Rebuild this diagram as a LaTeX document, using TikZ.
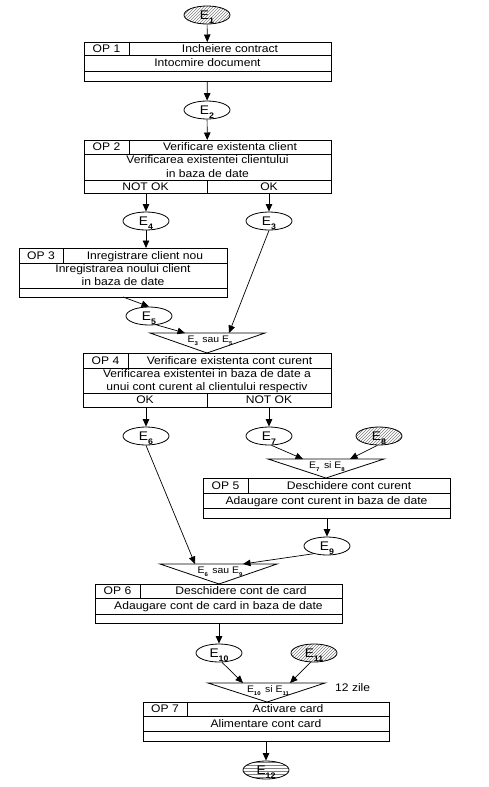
\documentclass[tikz,border=0pt]{standalone}
\usepackage{fontspec}
\setmainfont[FakeStretch=1.1]{Liberation Sans}
\usetikzlibrary{shapes.geometric,arrows.meta,patterns}
\newcommand{\sbs}[1]{\raisebox{-0.55ex}{\fontsize{8}{8}\selectfont\bfseries #1}}
\newcommand{\tsb}[1]{\raisebox{-0.45ex}{\fontsize{5.5}{5.5}\selectfont\bfseries #1}}
\newcommand{\opframe}[9]{%
  \node[opbox, minimum width={#3-#2}, minimum height={#7-#4}, anchor=north west] (#1) at (#2,#4) {};
  \draw[boxline] (#2,#5) -- (#3,#5) (#2,#6) -- (#3,#6) (#8,#4) -- (#8,#5);
  \node[txt] (#1op) at ({(#2+#8)/2},{(#4+#5)/2}) {#9};
  \coordinate (#1tc) at ({(#8+#3)/2},{(#4+#5)/2});
  \coordinate (#1dc) at ({(#2+#3)/2},{(#5+#6)/2});
}
\begin{document}
\begin{tikzpicture}[x=1pt,y=-1pt,
  opbox/.style={draw, line width=0.9pt, inner sep=0pt, outer sep=0pt, rectangle},
  boxline/.style={line width=0.9pt},
  txt/.style={inner sep=0pt, font=\fontsize{11}{13}\selectfont, text height=9.9pt, text depth=2pt},
  ev/.style={ellipse, draw, line width=0.8pt, minimum width=46pt, minimum height=18pt, inner sep=0pt, text height=9pt, text depth=0pt, font=\fontsize{12.5}{12.5}\selectfont},
  hatch/.style={pattern=north east lines, pattern color=gray},
  hline/.style={pattern=horizontal lines, pattern color=gray},
  arr/.style={line width=0.7pt, -{Triangle[length=7.5pt,width=6.5pt]}},
  tri/.style={line width=0.8pt},
  tlab/.style={inner sep=0pt, font=\fontsize{9.5}{9.5}\selectfont, text height=7.8pt, text depth=1pt}
]
\useasboundingbox (0,0) rectangle (488,787);

% events
\node[ev,hatch] (e1) at (207,15) {E\sbs{1}};
\node[ev] (e2) at (207,110) {E\sbs{2}};
\node[ev] (e4) at (146,221) {E\sbs{4}};
\node[ev] (e3) at (269,221) {E\sbs{3}};
\node[ev] (e5) at (149,316) {E\sbs{5}};
\node[ev] (e6) at (146,436) {E\sbs{6}};
\node[ev] (e7) at (269,436) {E\sbs{7}};
\node[ev,hatch] (e8) at (379,436) {E\sbs{8}};
\node[ev] (e9) at (327,546) {E\sbs{9}};
\node[ev] (e10) at (219,653) {E\sbs{10}};
\node[ev,hatch] (e11) at (314,653) {E\sbs{11}};
\node[ev,hline] (e12) at (266,770) {E\sbs{12}};

% OP 1
\opframe{op1}{84}{331}{42}{55}{71}{81}{129}{OP 1}
\node[txt] (op1t) at (op1tc) {Incheiere contract};
\node[txt] (op1d) at (op1dc) {Intocmire document};

% OP 2
\opframe{op2}{84}{331}{140}{154}{180}{193}{129}{OP 2}
\draw[boxline] (207,180) -- (207,193);
\node[txt] (op2t) at (op2tc) {Verificare existenta client};
\node[txt] (op2d1) at (207.5,160) {Verificarea existentei clientului};
\node[txt] (op2d2) at (207.5,173.5) {in baza de date};
\node[txt] (op2n) at (145.5,186.5) {NOT OK};
\node[txt] (op2o) at (269,186.5) {OK};

% OP 3
\opframe{op3}{19}{227}{248}{263}{288}{297}{63}{OP 3}
\node[txt] (op3t) at (op3tc) {Inregistrare client nou};
\node[txt] (op3d1) at (123,268.5) {Inregistrarea noului client};
\node[txt] (op3d2) at (123,282) {in baza de date};

% OP 4
\opframe{op4}{83}{331}{353}{368}{393}{407}{128}{OP 4}
\draw[boxline] (207,393) -- (207,407);
\node[txt] (op4t) at (op4tc) {Verificare existenta cont curent};
\node[txt] (op4d1) at (207,374) {Verificarea existentei in baza de date a};
\node[txt] (op4d2) at (207,387) {unui cont curent al clientului respectiv};
\node[txt] (op4o) at (145,400) {OK};
\node[txt] (op4n) at (269,400) {NOT OK};

% OP 5
\opframe{op5}{203}{450}{478}{493}{508}{518}{248}{OP 5}
\node[txt] (op5t) at (op5tc) {Deschidere cont curent};
\node[txt] (op5d) at (op5dc) {Adaugare cont curent in baza de date};

% OP 6
\opframe{op6}{95}{342}{584}{598}{614}{623}{140}{OP 6}
\node[txt] (op6t) at (op6tc) {Deschidere cont de card};
\node[txt] (op6d) at (op6dc) {Adaugare cont de card in baza de date};

% OP 7
\opframe{op7}{143}{389}{702}{716}{731}{741}{187}{OP 7}
\node[txt] (op7t) at (op7tc) {Activare card};
\node[txt] (op7d) at (op7dc) {Alimentare cont card};

% triangles
\coordinate (t1l) at (150,333); \coordinate (t1r) at (265,333); \coordinate (t1p) at (207,353);
\coordinate (t1a) at (185,333); \coordinate (t1b) at (229,333);
\draw[tri] (t1l) -- (t1r) -- (t1p) -- cycle;
\node[tlab] (t1lab) at (210,339.5) {E\tsb{3}\, sau E\tsb{5}};

\coordinate (t2l) at (268,459); \coordinate (t2r) at (384,459); \coordinate (t2p) at (326,478);
\coordinate (t2a) at (303,459); \coordinate (t2b) at (350,459);
\draw[tri] (t2l) -- (t2r) -- (t2p) -- cycle;
\node[tlab] (t2lab) at (327,465.5) {E\tsb{7}\, si E\tsb{8}};

\coordinate (t3l) at (160,564); \coordinate (t3r) at (277,564); \coordinate (t3p) at (219,584);
\coordinate (t3a) at (195,564); \coordinate (t3b) at (243,564);
\draw[tri] (t3l) -- (t3r) -- (t3p) -- cycle;
\node[tlab] (t3lab) at (220,570.5) {E\tsb{6}\, sau E\tsb{9}};

\coordinate (t4l) at (208,683); \coordinate (t4r) at (325,683); \coordinate (t4p) at (267,702);
\coordinate (t4a) at (243,683); \coordinate (t4b) at (290,683);
\draw[tri] (t4l) -- (t4r) -- (t4p) -- cycle;
\node[tlab] (t4lab) at (268,689.5) {E\tsb{10}\, si E\tsb{11}};
\node[txt, anchor=west] (zile) at (335,688) {12 zile};

% connectors
\coordinate (o3) at (123,297);
\draw[arr] (e1) -- (op1);
\draw[arr] (op1) -- (e2);
\draw[arr] (e2) -- (op2);
\draw[arr] (op2.south -| e4.north) -- (e4);
\draw[arr] (op2.south -| e3.north) -- (e3);
\draw[arr] (e4) -- (op3.north -| e4.south);
\draw[arr] (o3) -- (e5.north);
\draw[arr] (e5.-50) -- (t1a);
\draw[arr] (e3.south) -- (t1b);
\draw[arr] (op4.south -| e6.north) -- (e6);
\draw[arr] (op4.south -| e7.north) -- (e7);
\draw[arr] (e7.-75) -- (t2a);
\draw[arr] (e8.-100) -- (t2b);
\draw[arr] (op5.south -| e9.north) -- (e9);
\draw[arr] (e6.south) -- (t3a);
\draw[arr] (e9.-150) -- (t3b);
\draw[arr] (op6.south -| e10.north) -- (e10);
\draw[arr] (e10.-72) -- (t4a);
\draw[arr] (e11.-110) -- (t4b);
\draw[arr] (op7.south -| e12.north) -- (e12);
\end{tikzpicture}
\end{document}
